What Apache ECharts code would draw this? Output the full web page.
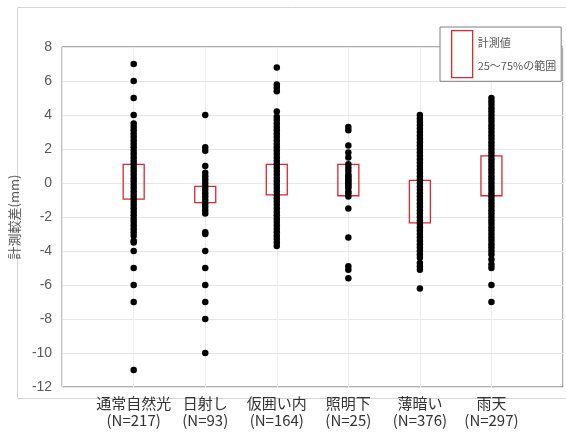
<!DOCTYPE html>
<html>
<head>
<meta charset="utf-8">
<script src="https://cdn.jsdelivr.net/npm/echarts@6/dist/echarts.min.js"></script>
<style>
  html, body { margin: 0; padding: 0; background: #fff; }
  #chart { width: 566px; height: 432px; }
</style>
</head>
<body>
<div id="chart"></div>
<script>
  // カテゴリ名（x軸ラベル）
  const categories = ['通常自然光\n(N=217)', '日射し\n(N=93)', '仮囲い内\n(N=164)', '照明下\n(N=25)', '薄暗い\n(N=376)', '雨天\n(N=297)'];

  // 計測較差(mm) 読み取り値
  const natural = [7.0, 6.0, 5.0, 4.0, 3.5, 3.3, 3.1, 2.9, 2.7, 2.5, 2.3, 2.1, 1.9, 1.7, 1.5, 1.3, 1.1, 0.9, 0.7, 0.5, 0.3, 0.1,
    -0.1, -0.3, -0.5, -0.7, -0.9, -1.1, -1.3, -1.5, -1.7, -1.9, -2.1, -2.3, -2.5, -2.7, -2.9, -3.1, -3.4, -3.5, -4.0, -5.0, -6.0, -7.0, -11.0];
  const sunshine = [4.0, 2.1, 1.9, 1.0, 0.6, 0.4, 0.2, 0.0, -0.2, -0.4, -0.6, -0.8, -1.0, -1.2, -1.4, -1.6, -1.8, -2.9, -3.0, -4.0, -5.0, -6.0, -7.0, -8.0, -10.0];
  const enclosed = [6.8, 5.8, 5.6, 5.4, 4.2, 3.9, 3.7, 3.5, 3.3, 3.1, 2.9, 2.7, 2.5, 2.3, 2.1, 1.9, 1.7, 1.5, 1.3, 1.1, 0.9, 0.7, 0.5, 0.3, 0.1,
    -0.1, -0.3, -0.5, -0.7, -0.9, -1.1, -1.3, -1.5, -1.7, -1.9, -2.1, -2.3, -2.5, -2.7, -2.9, -3.1, -3.3, -3.5, -3.7];
  const lighting = [3.3, 3.1, 2.2, 1.8, 1.5, 1.1, 0.9, 0.7, 0.5, 0.4, 0.3, 0.2, 0.1, 0.0, -0.1, -0.2, -0.3, -0.5, -0.6, -0.8, -1.5, -3.2, -4.9, -5.1, -5.6];
  const dim = [4.0, 3.8, 3.6, 3.4, 3.2, 3.0, 2.8, 2.6, 2.4, 2.2, 2.0, 1.8, 1.6, 1.4, 1.2, 1.0, 0.8, 0.6, 0.4, 0.2, 0.0,
    -0.2, -0.4, -0.6, -0.8, -1.0, -1.2, -1.4, -1.6, -1.8, -2.0, -2.2, -2.4, -2.6, -2.8, -3.0, -3.2, -3.4, -3.6, -3.8, -4.0, -4.2, -4.4, -4.7, -4.9, -5.1, -6.2];
  const rain = [5.0, 4.8, 4.6, 4.4, 4.2, 4.0, 3.8, 3.6, 3.4, 3.2, 3.0, 2.8, 2.6, 2.4, 2.2, 2.0, 1.8, 1.6, 1.4, 1.2, 1.0, 0.8, 0.6, 0.4, 0.2, 0.0,
    -0.2, -0.4, -0.6, -0.8, -1.0, -1.2, -1.4, -1.6, -1.8, -2.0, -2.2, -2.4, -2.6, -2.8, -3.0, -3.2, -3.4, -3.6, -3.8, -4.0, -4.2, -4.5, -4.8, -5.0, -6.0, -7.0];

  // 25〜75%の範囲 [下端, 上端]
  const q1 = [-0.95, -1.15, -0.7, -0.75, -2.35, -0.75];
  const q3 = [1.1, -0.2, 1.1, 1.1, 0.15, 1.6];

  // y軸目盛
  const yMin = -12, yMax = 8, yStep = 2;

  const groups = [natural, sunshine, enclosed, lighting, dim, rain];
  const points = [];
  groups.forEach((g, i) => g.forEach(v => points.push([i + 1, v])));
  const boxes = q1.map((v, i) => [i + 1, v, q3[i]]);

  const boxName = '計測値\n25〜75%の範囲';
  const font = '"Noto Sans CJK JP", sans-serif';
  const red = '#e02630';

  const chart = echarts.init(document.getElementById('chart'));
  chart.setOption({
    animation: false,
    textStyle: { fontFamily: font },
    graphic: [{
      type: 'rect',
      z: -10,
      silent: true,
      shape: { x: 17.5, y: 7.5, width: 560, height: 391 },
      style: { fill: 'none', stroke: '#d4d4d4', lineWidth: 1 }
    }],
    grid: {
      left: 57, top: 47, right: 3, bottom: 45,
      show: true, borderColor: '#595959', borderWidth: 1, backgroundColor: 'transparent'
    },
    legend: {
      left: 440, top: 27,
      orient: 'vertical',
      backgroundColor: '#fff',
      borderColor: '#7f7f7f', borderWidth: 1,
      padding: [3, 5, 3, 11],
      itemWidth: 21, itemHeight: 47, itemGap: 0,
      textStyle: { fontSize: 11, color: '#595959', lineHeight: 23, fontFamily: font },
      data: [{
        name: boxName,
        icon: 'rect',
        itemStyle: { color: '#fff', borderColor: red, borderWidth: 1.3 }
      }]
    },
    xAxis: {
      type: 'value',
      min: 0, max: categories.length + 1, interval: 1,
      axisLine: { show: false },
      axisTick: { show: false },
      splitLine: { show: true, lineStyle: { color: '#ececec' } },
      axisLabel: {
        fontSize: 15, color: '#333', lineHeight: 17, margin: 8,
        formatter: v => categories[v - 1] || ''
      }
    },
    yAxis: {
      type: 'value',
      min: yMin, max: yMax, interval: yStep,
      name: '計測較差(mm)',
      nameLocation: 'middle',
      nameRotate: 90,
      nameGap: 36,
      nameTextStyle: { fontSize: 13, color: '#595959' },
      axisLine: { show: false },
      axisTick: { show: false },
      splitLine: { lineStyle: { color: '#e6e6e6' } },
      axisLabel: { fontSize: 14, color: '#595959', margin: 10, fontFamily: '"Liberation Sans", sans-serif' }
    },
    series: [
      {
        name: boxName,
        type: 'custom',
        z: 2,
        encode: { x: 0, y: [1, 2] },
        itemStyle: { color: '#fff', borderColor: red },
        renderItem: (params, api) => {
          const x = api.value(0);
          const top = api.coord([x, api.value(2)]);
          const bot = api.coord([x, api.value(1)]);
          return {
            type: 'rect',
            shape: { x: top[0] - 10.5, y: top[1], width: 21, height: bot[1] - top[1] },
            style: { fill: 'none', stroke: red, lineWidth: 1.3 }
          };
        },
        data: boxes
      },
      {
        name: '点',
        type: 'scatter',
        symbolSize: 6.5,
        itemStyle: { color: '#000', opacity: 1 },
        data: points,
        z: 4
      }
    ]
  });
</script>
</body>
</html>
